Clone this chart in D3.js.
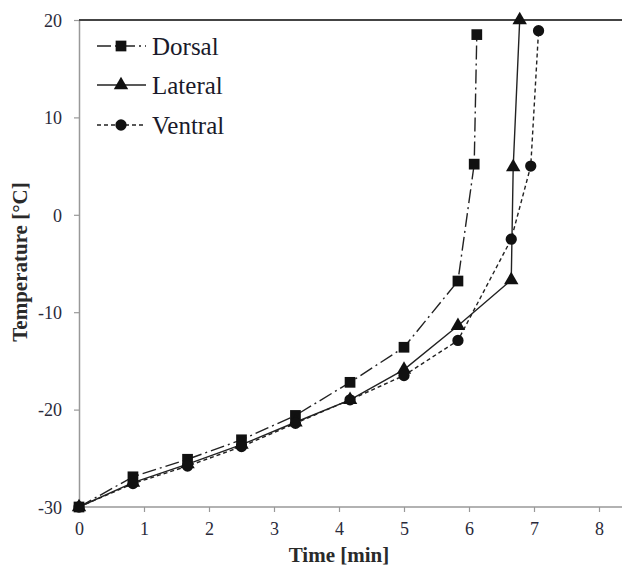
<!DOCTYPE html>
<html><head><meta charset="utf-8">
<script src="https://cdn.jsdelivr.net/npm/d3@7"></script>
<style>body{margin:0;background:#fff}svg{display:block}</style>
</head><body>
<svg id="chart" width="622" height="570"></svg>
<script>
const xTicks = [0,1,2,3,4,5,6,7,8];
const yTicks = [-30,-20,-10,0,10,20];
const seriesNames = ["Dorsal","Lateral","Ventral"];
const dorsalX = [0,0.83,1.67,2.5,3.33,4.17,5,5.83,6.08,6.12];
const dorsalY = [-30,-26.9,-25.1,-23.1,-20.6,-17.2,-13.6,-6.8,5.2,18.5];
const lateralX = [0,0.83,1.67,2.5,3.33,4.17,5,5.83,6.65,6.68,6.78];
const lateralY = [-30,-27.5,-25.6,-23.6,-21.3,-19.0,-15.9,-11.4,-6.7,4.9,20];
const ventralX = [0,0.83,1.67,2.5,3.33,4.17,5,5.83,6.65,6.95,7.07];
const ventralY = [-30,-27.6,-25.8,-23.8,-21.4,-19.0,-16.5,-12.9,-2.5,5.0,18.9];

const svg = d3.select("#chart");
const x = d3.scaleLinear().domain([0,8]).range([79,599]);
const y = d3.scaleLinear().domain([-30,20]).range([507,20]);
const fmt = d => String(d);

// axes
const xAxis = svg.append("g").attr("transform","translate(0,507)")
  .call(d3.axisBottom(x).tickValues(xTicks).tickFormat(fmt).tickSize(5).tickSizeOuter(0));
xAxis.select(".domain").remove();
svg.append("line").attr("x1",79).attr("x2",622).attr("y1",507).attr("y2",507)
  .attr("stroke","#999").attr("stroke-width",1.5);
const yAxis = svg.append("g").attr("transform","translate(79,0)")
  .call(d3.axisLeft(y).tickValues(yTicks).tickFormat(fmt).tickSize(5).tickSizeOuter(0));
yAxis.select(".domain").attr("stroke","#999").attr("stroke-width",1.5);
[xAxis,yAxis].forEach(a=>{
  a.selectAll(".tick line").attr("stroke","#999").attr("stroke-width",1.2);
  a.selectAll(".tick text").attr("font-family","Liberation Serif, serif")
    .attr("font-size",18).attr("fill","#2a2a3a");
});
xAxis.selectAll(".tick text").attr("dy","1.1em");
yAxis.selectAll(".tick text").attr("dx","-9").attr("dy","0.35em");
// top border
svg.append("line").attr("x1",79).attr("x2",622).attr("y1",y(20)).attr("y2",y(20))
  .attr("stroke","#444").attr("stroke-width",2);

const styles = {
  Dorsal:{dash:"14,4,2,4", shape:d3.symbolSquare, size:115},
  Lateral:{dash:null, shape:d3.symbolTriangle, size:90},
  Ventral:{dash:"4,3", shape:d3.symbolCircle, size:100}
};
const data = {
  Dorsal: dorsalX.map((v,i)=>[v,dorsalY[i]]),
  Lateral: lateralX.map((v,i)=>[v,lateralY[i]]),
  Ventral: ventralX.map((v,i)=>[v,ventralY[i]])
};
const line = d3.line().x(d=>x(d[0])).y(d=>y(d[1]));
seriesNames.forEach(n=>{
  const st = styles[n];
  svg.append("path").datum(data[n]).attr("d",line).attr("fill","none")
    .attr("stroke","#222").attr("stroke-width",1.4)
    .attr("stroke-dasharray",st.dash);
});
seriesNames.forEach(n=>{
  const st = styles[n];
  svg.append("g").selectAll("path").data(data[n]).join("path")
    .attr("transform",d=>`translate(${x(d[0])},${y(d[1])})`)
    .attr("d",d3.symbol().type(st.shape).size(st.size))
    .attr("fill","#111");
});

// legend
const legY = [46,85,125];
seriesNames.forEach((n,i)=>{
  const st = styles[n];
  const g = svg.append("g").attr("transform",`translate(0,${legY[i]})`);
  g.append("line").attr("x1",97).attr("x2",146).attr("y1",0).attr("y2",0)
    .attr("stroke","#222").attr("stroke-width",1.4).attr("stroke-dasharray",st.dash);
  g.append("path").attr("transform","translate(121,0)")
    .attr("d",d3.symbol().type(st.shape).size(st.size)).attr("fill","#111");
  g.append("text").attr("x",152).attr("y",0).attr("dy","0.35em")
    .attr("font-family","Liberation Serif, serif").attr("font-size",25)
    .attr("fill","#1a1a2a").text(n);
});

// axis titles
svg.append("text").attr("x",339).attr("y",562).attr("text-anchor","middle")
  .attr("font-family","Liberation Serif, serif").attr("font-weight","bold")
  .attr("font-size",21).attr("fill","#2a2a2a").text("Time [min]");
svg.append("text").attr("transform","translate(27,262) rotate(-90)")
  .attr("text-anchor","middle")
  .attr("font-family","Liberation Serif, serif").attr("font-weight","bold")
  .attr("font-size",21).attr("fill","#2a2a2a").text("Temperature [°C]");
</script>
</body></html>
